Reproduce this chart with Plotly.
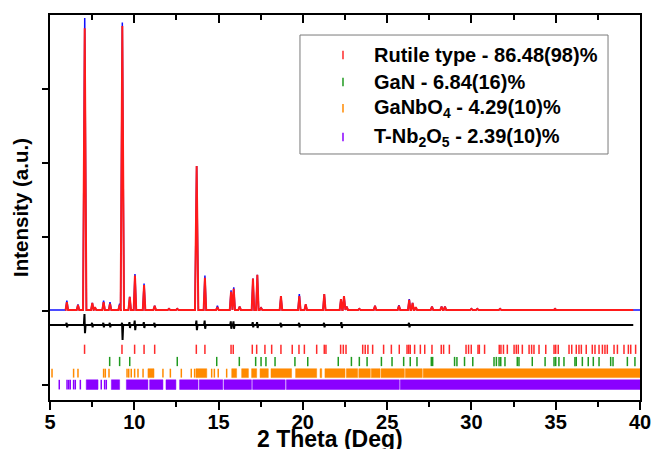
import plotly.graph_objects as go

# ---------------- data ----------------
# peaks: 2theta position, calculated intensity, observed intensity (a.u., baseline 0)
peak_pos = [6.00, 6.66, 7.06, 7.51, 7.67, 8.18, 8.56, 9.13, 9.29, 9.73, 10.04, 10.58,
            11.21, 12.06, 12.55, 13.70, 14.19, 14.93, 15.74, 15.90, 16.25, 17.04, 17.30,
            17.52, 18.70, 19.79, 20.17, 21.27, 22.26, 22.44, 22.60, 23.35, 24.28, 25.70,
            26.31, 26.51, 26.70, 27.66, 28.23, 28.43, 30.00, 30.35, 31.70, 34.96, 36.44]
peak_calc = [0.12, 0.08, 3.82, 0.11, 0.05, 0.12, 0.10, 0.08, 3.85, 0.19, 0.48, 0.35,
             0.07, 0.03, 0.03, 1.96, 0.45, 0.05, 0.26, 0.30, 0.06, 0.44, 0.49,
             0.04, 0.20, 0.20, 0.09, 0.23, 0.16, 0.20, 0.06, 0.03, 0.07, 0.07,
             0.15, 0.11, 0.05, 0.06, 0.06, 0.06, 0.03, 0.03, 0.03, 0.03, 0.02]
peak_obs = [0.14, 0.09, 3.96, 0.11, 0.05, 0.14, 0.12, 0.10, 3.90, 0.19, 0.50, 0.37,
            0.07, 0.03, 0.03, 1.96, 0.48, 0.07, 0.28, 0.32, 0.06, 0.44, 0.49,
            0.05, 0.20, 0.23, 0.09, 0.23, 0.16, 0.20, 0.06, 0.03, 0.07, 0.08,
            0.16, 0.11, 0.05, 0.06, 0.06, 0.06, 0.03, 0.03, 0.03, 0.03, 0.02]
background = 0.015
obs_span = (5.0, 40.0)
calc_span = (5.9, 39.6)

# difference curve: offset and spikes (position, up, down)
diff_offset = -0.19
diff_pos = [6.00, 7.06, 7.51, 8.18, 8.56, 9.29, 9.73, 10.04, 10.58, 11.21, 13.70,
            14.19, 15.74, 15.90, 17.04, 17.30, 18.70, 19.79, 21.27, 22.30, 26.31]
diff_up = [0.03, 0.15, 0.03, 0.03, 0.03, 0.03, 0.04, 0.06, 0.04, 0.03, 0.06,
           0.06, 0.05, 0.05, 0.04, 0.04, 0.03, 0.03, 0.03, 0.04, 0.03]
diff_down = [0.03, 0.11, 0.03, 0.03, 0.03, 0.20, 0.04, 0.07, 0.04, 0.03, 0.07,
             0.05, 0.05, 0.05, 0.03, 0.04, 0.03, 0.03, 0.03, 0.04, 0.03]

# Bragg reflection positions (single ticks and dense ranges)
rutile_ticks = [7.05, 9.27, 10.02, 10.58, 11.21, 13.68, 14.19, 15.74, 15.87, 17.00, 17.26,
                17.75, 18.15, 18.70, 19.37, 19.77, 20.09, 20.82, 21.27, 21.37, 22.24, 22.40,
                22.56, 23.55, 23.70, 23.86, 24.14, 24.79, 25.25, 25.72, 26.18, 26.28, 26.37,
                26.63, 26.97, 27.23, 27.66, 28.21, 28.35, 28.69, 29.68, 29.83, 29.99, 30.39,
                30.47, 30.78, 31.65, 31.75, 31.90, 32.13, 32.53, 32.66, 32.78, 33.02, 33.42,
                33.57, 33.71, 34.01, 34.41, 34.90, 35.00, 35.15, 35.79, 35.95, 36.22, 36.38,
                36.52, 36.81, 37.17, 37.33, 37.57, 37.77, 37.92, 38.06, 38.46, 38.66, 39.05,
                39.31, 39.45, 39.74]
gan_ticks = [8.54, 9.13, 9.73, 12.55, 14.89, 16.23, 17.20, 17.52, 17.81, 18.35, 19.53,
             20.29, 22.10, 22.88, 23.35, 23.81, 24.66, 25.29, 25.98, 26.37, 26.77, 27.62,
             27.70, 29.00, 29.14, 29.59, 30.08, 31.34, 31.48, 31.64, 31.74, 31.99, 32.72,
             32.82, 33.61, 34.37, 34.90, 35.00, 35.19, 35.49, 36.14, 36.22, 36.58, 36.93,
             37.23, 37.57, 38.26, 38.40, 39.25, 39.70]
ganbo4_ticks = [5.12, 6.40, 6.66, 8.18, 8.28, 8.50, 9.57, 9.67, 9.82, 10.02, 10.22, 10.52,
                11.70, 12.14, 12.79, 13.38, 13.58, 14.59, 14.75, 14.98, 15.48]
ganbo4_ranges = [(10.81, 11.17), (13.66, 14.30), (15.78, 16.07), (16.37, 16.77),
                 (16.96, 17.26), (17.46, 17.95), (18.11, 19.33), (19.57, 20.82),
                 (21.02, 21.12), (21.31, 22.50), (22.58, 23.25), (23.32, 24.00),
                 (24.06, 24.58), (24.64, 26.02), (26.08, 27.08), (27.14, 40.00)]
tnb2o5_ticks = [5.55, 6.01, 6.11, 6.20, 6.40, 6.50, 6.80, 8.04, 8.24, 8.34]
tnb2o5_ranges = [(7.15, 7.85), (8.64, 9.13), (9.53, 10.81), (10.91, 11.70), (11.88, 12.47),
                 (12.69, 13.78), (13.85, 15.25), (15.32, 16.95), (17.02, 18.95),
                 (19.02, 25.72), (25.78, 40.00)]

legend_names = ["Rutile type - 86.48(98)%", "GaN - 6.84(16)%",
                "GaNbO<sub>4</sub> - 4.29(10)%", "T-Nb<sub>2</sub>O<sub>5</sub> - 2.39(10)%"]
phase_colors = ["#ff2a2a", "#1f9a1f", "#ff8a00", "#8a00ff"]
phase_rows = [(-0.455, -0.58), (-0.62, -0.745), (-0.78, -0.90), (-0.93, -1.06)]

x_tick_vals = [5, 10, 15, 20, 25, 30, 35, 40]
y_tick_vals = [-1, 0, 1, 2, 3]
x_title = "2 Theta (Deg)"
y_title = "Intensity (a.u.)"


# ---------------- helpers ----------------
def profile(span, pos, heights, base, w=0.075):
    xs, ys = [span[0]], [base]
    for p, h in sorted(zip(pos, heights)):
        if p < span[0] or p > span[1]:
            continue
        ww = 0.1 if h > 1 else w
        xs += [p - ww, p, p + ww]
        ys += [base, h, base]
    xs.append(span[1]); ys.append(base)
    return xs, ys


def diff_profile(span, pos, up, down, off):
    xs, ys = [span[0]], [off]
    for p, u, d in zip(pos, up, down):
        xs += [p - 0.05, p - 0.015, p + 0.015, p + 0.05]
        ys += [off, off + u, off - d, off]
    xs.append(span[1]); ys.append(off)
    return xs, ys


def tick_lines(ticks, lo, hi):
    xs, ys = [], []
    for t in ticks:
        xs += [t, t, None]
        ys += [lo, hi, None]
    return xs, ys


def range_boxes(ranges, lo, hi):
    xs, ys = [], []
    for a, b in ranges:
        xs += [a, b, b, a, a, None]
        ys += [lo, lo, hi, hi, lo, None]
    return xs, ys


fig = go.Figure()

ox, oy = profile(obs_span, peak_pos, peak_obs, background)
fig.add_trace(go.Scatter(x=ox, y=oy, mode="lines", line=dict(color="#1010ff", width=1.5),
                         showlegend=False, name="Observed"))
cx, cy = profile(calc_span, peak_pos, peak_calc, background)
fig.add_trace(go.Scatter(x=cx, y=cy, mode="lines", line=dict(color="#ff1a1a", width=2),
                         showlegend=False, name="Calculated"))
dx, dy = diff_profile((5.0, 39.6), diff_pos, diff_up, diff_down, diff_offset)
fig.add_trace(go.Scatter(x=dx, y=dy, mode="lines", line=dict(color="black", width=2),
                         showlegend=False, name="Difference"))

tick_sets = [(rutile_ticks, []), (gan_ticks, []), (ganbo4_ticks, ganbo4_ranges),
             (tnb2o5_ticks, tnb2o5_ranges)]
for (ticks, ranges), col, (lo, hi), nm in zip(tick_sets, phase_colors, phase_rows, legend_names):
    tx, ty = tick_lines(ticks, lo, hi)
    fig.add_trace(go.Scatter(x=tx, y=ty, mode="lines", line=dict(color=col, width=1.5),
                             showlegend=False, name=nm))
    if ranges:
        bx, by = range_boxes(ranges, lo, hi)
        fig.add_trace(go.Scatter(x=bx, y=by, mode="lines", fill="toself", fillcolor=col,
                                 line=dict(color=col, width=0.5), showlegend=False, name=nm))

# ---------------- manual legend ----------------
FONT = "Liberation Sans, Arial"
fig.add_shape(type="rect", xref="paper", yref="paper", x0=0.4237, x1=0.9458, y0=0.639, y1=0.948,
              line=dict(color="#7a7a7a", width=1), fillcolor="rgba(0,0,0,0)")
row_y = [0.896, 0.826, 0.758, 0.683]
for nm, col, yy in zip(legend_names, phase_colors, row_y):
    fig.add_shape(type="line", xref="paper", yref="paper", x0=0.4966, x1=0.4966,
                  y0=yy - 0.011, y1=yy + 0.011, line=dict(color=col, width=1.5))
    fig.add_annotation(xref="paper", yref="paper", x=0.5458, y=yy, text=nm, showarrow=False,
                       xanchor="left", yanchor="middle",
                       font=dict(family=FONT, size=20, color="black", weight="bold"))

# x-axis title (placed as in the reference, slightly left of centre)
fig.add_annotation(xref="paper", yref="paper", x=0.475, y=-0.1, text=x_title,
                   showarrow=False, xanchor="center", yanchor="middle",
                   font=dict(family=FONT, size=23, color="black", weight="bold"))

tick_font = dict(family=FONT, size=20, color="black", weight="bold")
fig.update_layout(
    width=652, height=449,
    margin=dict(l=50, r=12, t=15, b=49),
    paper_bgcolor="white", plot_bgcolor="white",
    xaxis=dict(range=[5, 40], tickvals=x_tick_vals, ticks="outside", ticklen=8, tickwidth=1.5,
               tickcolor="black", showline=True, linecolor="black", linewidth=1.5,
               showgrid=False, zeroline=False, tickfont=tick_font, automargin=False,
               ticklabelstandoff=-5,
               minor=dict(dtick=2.5, ticks="outside", ticklen=5, tickwidth=1.5, tickcolor="black")),
    xaxis2=dict(range=[5, 40], overlaying="x", side="top", tickvals=x_tick_vals, ticks="inside",
                ticklen=8, tickwidth=1.5, tickcolor="black", showline=True, linecolor="black",
                linewidth=1.5, showgrid=False, zeroline=False, showticklabels=False,
                automargin=False,
                minor=dict(dtick=2.5, ticks="inside", ticklen=5, tickwidth=1.5, tickcolor="black")),
    yaxis=dict(range=[-1.2027, 4.0], tickvals=y_tick_vals, ticks="outside", ticklen=6,
               tickwidth=1.5, tickcolor="black", showticklabels=False, showline=True,
               linecolor="black", linewidth=1.5, mirror=True, showgrid=False, zeroline=False,
               automargin=False,
               title=dict(text=y_title, standoff=8,
                          font=dict(family=FONT, size=20.5, color="black", weight="bold"))),
    showlegend=False,
)
# dummy trace to activate top axis
fig.add_trace(go.Scatter(x=[None], y=[None], xaxis="x2", showlegend=False, hoverinfo="skip"))

fig.write_html("out.html")
